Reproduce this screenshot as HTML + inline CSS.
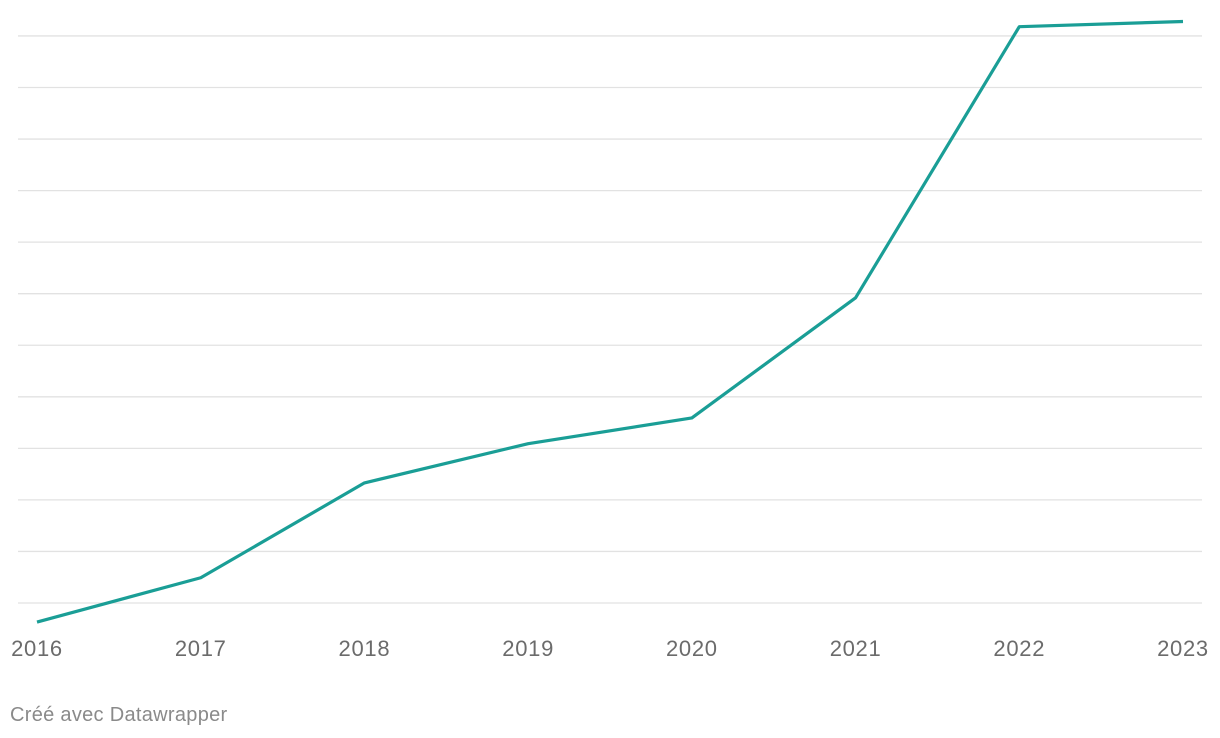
<!DOCTYPE html>
<html><head><meta charset="utf-8"><style>
body{margin:0;background:#fff;font-family:"Liberation Sans",sans-serif;}
svg{display:block}
</style></head><body>
<svg width="1220" height="738">
<g id="grid"></g>
<g id="xlabels"></g>
<path id="line" fill="none" stroke="#1a9e96" stroke-width="3.2" stroke-linejoin="round"/>
<text x="10" y="721" font-size="20" letter-spacing="0.3" fill="#8a8a8a">Créé avec Datawrapper</text>
</svg>
<script>
const years=["2016","2017","2018","2019","2020","2021","2022","2023"];
const values=[-0.37,0.49,2.33,3.09,3.59,5.92,11.18,11.28];
const gridValues=[0,1,2,3,4,5,6,7,8,9,10,11];
const x=i=>37+i*(1183-37)/(years.length-1);
const y=v=>603-v*51.55;
const ns="http://www.w3.org/2000/svg";
const g=document.getElementById('grid');
gridValues.forEach(v=>{
 const l=document.createElementNS(ns,'line');
 
 
 l.setAttribute('x1',18);l.setAttribute('x2',1202);
 l.setAttribute('y1',y(v));l.setAttribute('y2',y(v));
 l.setAttribute('stroke','#e2e2e2');l.setAttribute('stroke-width','1.3');
 g.appendChild(l);
});
const xl=document.getElementById('xlabels');
years.forEach((t,i)=>{
 const e=document.createElementNS(ns,'text');
 
 
 e.setAttribute('x',x(i));e.setAttribute('y',656);
 e.setAttribute('text-anchor','middle');e.setAttribute('font-size','22');e.setAttribute('letter-spacing','0.7');e.setAttribute('fill','#6b6b6b');
 e.textContent=t;xl.appendChild(e);
});
document.getElementById('line').setAttribute('d',values.map((v,i)=>(i?'L':'M')+x(i)+' '+y(v)).join(' '));
</script>
</body></html>
